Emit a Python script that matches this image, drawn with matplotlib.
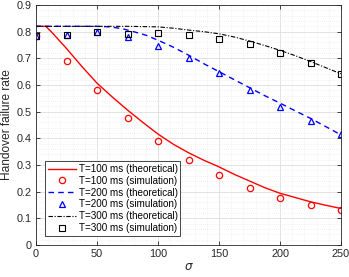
import matplotlib
matplotlib.use("Agg")
import matplotlib.pyplot as plt
from matplotlib.ticker import MultipleLocator

plt.rcParams['font.family'] = ['Liberation Sans', 'DejaVu Sans']

# Simulation points
sigma_sim = [0, 25, 50, 75, 100, 125, 150, 175, 200, 225, 250]
sim_100 = [0.785, 0.691, 0.581, 0.475, 0.389, 0.319, 0.261, 0.213, 0.177, 0.151, 0.132]
sim_200 = [0.785, 0.787, 0.800, 0.780, 0.745, 0.700, 0.644, 0.581, 0.519, 0.465, 0.415]
sim_300 = [0.785, 0.787, 0.800, 0.793, 0.794, 0.787, 0.772, 0.752, 0.719, 0.681, 0.641]

# Theoretical curves
sigma_th100 = [0, 8, 12.5, 25, 37.5, 50, 62.5, 75, 87.5, 100, 112.5, 125, 137.5, 150,
               162.5, 175, 187.5, 200, 212.5, 225, 237.5, 250]
th_100 = [0.82, 0.82, 0.80, 0.737, 0.670, 0.607, 0.555, 0.506, 0.460, 0.416, 0.378,
          0.346, 0.318, 0.293, 0.265, 0.240, 0.215, 0.194, 0.178, 0.162, 0.149, 0.137]

sigma_th200 = [0, 50, 60, 70, 80, 90, 100, 112.5, 125, 137.5, 150, 162.5, 175, 187.5,
               200, 212.5, 225, 237.5, 250]
th_200 = [0.82, 0.82, 0.818, 0.812, 0.800, 0.787, 0.768, 0.742, 0.712, 0.680, 0.650,
          0.620, 0.590, 0.560, 0.532, 0.503, 0.475, 0.444, 0.413]

sigma_th300 = [0, 75, 100, 112.5, 125, 137.5, 150, 162.5, 175, 187.5, 200, 212.5, 225,
               237.5, 250]
th_300 = [0.82, 0.82, 0.818, 0.813, 0.806, 0.800, 0.792, 0.780, 0.765, 0.748, 0.730,
          0.710, 0.688, 0.665, 0.642]

labels = ["T=100 ms (theoretical)", "T=100 ms (simulation)",
          "T=200 ms (theoretical)", "T=200 ms (simulation)",
          "T=300 ms (theoretical)", "T=300 ms (simulation)"]

fig = plt.figure(figsize=(3.49, 2.77), dpi=100)
ax = fig.add_axes([36/349, (277-245)/277, 305/349, 240/277])

ax.plot(sigma_th100, th_100, color='#ff0000', lw=1.0, label=labels[0])
ax.plot(sigma_sim, sim_100, 'o', mfc='none', mec='#ff0000', ms=4.5, mew=0.9, label=labels[1])
ax.plot(sigma_th200, th_200, color='#0000ff', lw=1.0, ls=(0, (4, 3)), label=labels[2])
ax.plot(sigma_sim, sim_200, '^', mfc='none', mec='#0000ff', ms=4.5, mew=0.9, label=labels[3])
ax.plot(sigma_th300, th_300, color='black', lw=0.8, ls=(0, (4, 1.5, 1, 1.5)), label=labels[4])
ax.plot(sigma_sim, sim_300, 's', mfc='none', mec='black', ms=3.8, mew=0.8, label=labels[5])

ax.set_xlim(0, 250)
ax.set_ylim(0, 0.9)
ax.xaxis.set_major_locator(MultipleLocator(50))
ax.xaxis.set_minor_locator(MultipleLocator(10))
ax.yaxis.set_major_locator(MultipleLocator(0.1))
ax.yaxis.set_minor_locator(MultipleLocator(0.02))
ax.set_yticklabels(['0' if abs(v) < 1e-9 else f'{v:.1f}' for v in ax.get_yticks()])

ax.grid(which='major', color='#dedede', lw=0.6, ls='-')
ax.grid(which='minor', color='#e6e6e6', lw=0.5, ls=(0, (1, 2)))
ax.set_axisbelow(True)

for s in ax.spines.values():
    s.set_color('#262626')
    s.set_linewidth(0.6)
ax.tick_params(which='both', direction='in', colors='#262626', labelsize=7.8, pad=3)
ax.tick_params(which='major', length=3, width=0.6)
ax.tick_params(which='minor', length=0)
ax.tick_params(axis='both', which='major', top=True, right=True)

ax.set_xlabel(r'$\sigma$', fontsize=8.6, color='#262626', labelpad=1)
ax.set_ylabel('Handover failure rate', fontsize=8.6, color='#262626')
ax.yaxis.set_label_coords(-0.077, 0.5)

leg = ax.legend(loc='lower left', bbox_to_anchor=(9/305, 9/240), fontsize=7.1,
                frameon=True, fancybox=False, edgecolor='#262626', framealpha=1,
                handlelength=2.8, handletextpad=0.3, labelspacing=0.18,
                borderpad=0.3, borderaxespad=0)
leg.get_frame().set_linewidth(0.6)

fig.savefig('out.png', dpi=100)
